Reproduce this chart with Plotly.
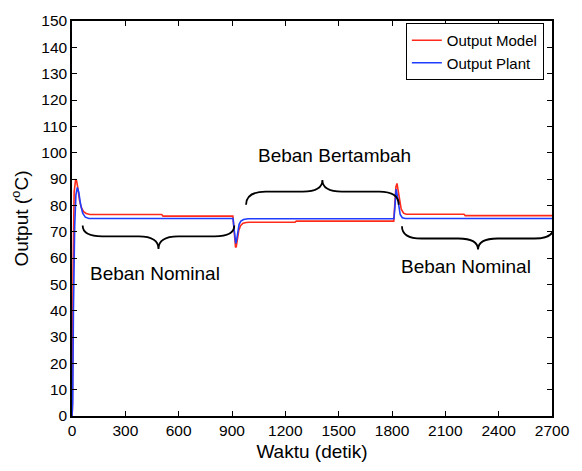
import plotly.graph_objects as go

# ---- data ----
t_model = [0, 2, 6, 12, 20, 26, 33, 42, 52, 65, 80, 100, 505, 512, 905, 910, 915, 920, 924, 930, 938, 948, 962, 980, 1000,
           1255, 1262, 1810, 1816, 1822, 1828, 1834, 1842, 1852, 1865, 1880, 2205, 2212, 2700]
v_model = [0, 2, 55, 85, 89.6, 89.3, 86.5, 82, 79.2, 77.6, 76.9, 76.5, 76.5, 75.9, 75.9, 72, 66, 64.0, 64.3, 67.5, 70.5, 72.3, 73.2, 73.5, 73.6,
           73.6, 74.0, 74.0, 80, 87, 88.3, 86, 82, 78.5, 77.0, 76.6, 76.6, 76.1, 76.1]

t_plant = [0, 4, 8, 15, 22, 30, 38, 48, 60, 75, 95, 906, 911, 916, 921, 926, 932, 940, 950, 965, 990,
           1811, 1817, 1823, 1829, 1836, 1846, 1858, 1875, 2700]
v_plant = [0, 5, 40, 72, 84, 86.8, 85, 80.5, 77, 75.5, 75.0, 75.0, 71.5, 67.5, 65.5, 66.8, 70.3, 72.8, 74.0, 74.6, 74.9,
           74.9, 80, 86.1, 84, 80, 76.5, 75.3, 75.0, 75.0]

series_names = ["Output Model", "Output Plant"]
x_ticks = [0, 300, 600, 900, 1200, 1500, 1800, 2100, 2400, 2700]
y_ticks = list(range(0, 151, 10))

# braces: (t_start, t_end, y_end, y_mid, y_tip)
braces = [
    (60, 913, 72.3, 68.2, 63.4),
    (979, 1838, 80.2, 85.2, 89.6),
    (1856, 2712, 72.1, 67.4, 63.2),
]
labels = [
    ("Beban Nominal", 465, 54.0),
    ("Beban Bertambah", 1475, 98.8),
    ("Beban Nominal", 2215, 56.6),
]

FONT = "Liberation Sans, Arial, sans-serif"

fig = go.Figure()
fig.add_trace(go.Scatter(x=t_model, y=v_model, mode="lines", name=series_names[0],
                         line=dict(color="#ff2a1a", width=1.6)))
fig.add_trace(go.Scatter(x=t_plant, y=v_plant, mode="lines", name=series_names[1],
                         line=dict(color="#1f3cff", width=1.6)))

def brace_path(x0, x1, y0, ym, yt):
    xc = (x0 + x1) / 2
    r = 110
    return (f"M {x0},{y0} Q {x0},{ym} {x0 + r},{ym} L {xc - r},{ym} "
            f"Q {xc},{ym} {xc},{yt} Q {xc},{ym} {xc + r},{ym} "
            f"L {x1 - r},{ym} Q {x1},{ym} {x1},{y0}")

for b in braces:
    fig.add_shape(type="path", xref="x", yref="y", path=brace_path(*b),
                  line=dict(color="black", width=1.8))

for txt, x, y in labels:
    fig.add_annotation(x=x, y=y, xref="x", yref="y", text=txt, showarrow=False,
                       font=dict(size=19, color="black", family=FONT))

axis_common = dict(showline=True, linecolor="black", linewidth=1.5, mirror="allticks",
                   ticks="inside", ticklen=5, tickcolor="black", showgrid=False,
                   zeroline=False, tickfont=dict(size=15.5, color="black", family=FONT))

fig.update_xaxes(range=[0, 2700], tickvals=x_ticks, ticktext=[str(v) for v in x_ticks],
                 title=dict(text="Waktu (detik)", font=dict(size=19, color="black", family=FONT), standoff=6),
                 **axis_common)
fig.update_yaxes(range=[0, 150], tickvals=y_ticks, ticktext=[str(v) for v in y_ticks],
                 title=dict(text="Output (<sup>o</sup>C)", font=dict(size=19, color="black", family=FONT), standoff=8),
                 **axis_common)

fig.update_layout(
    width=582, height=471,
    margin=dict(l=72, r=28, t=18, b=51),
    plot_bgcolor="white", paper_bgcolor="white",
    font=dict(family=FONT, color="black"),
    legend=dict(x=0.983, y=0.995, xanchor="right", yanchor="top",
                bordercolor="black", borderwidth=1, bgcolor="white",
                font=dict(size=15, color="black", family=FONT),
                tracegroupgap=0, itemwidth=30),
    showlegend=True,
)

fig.write_html("out.html")
